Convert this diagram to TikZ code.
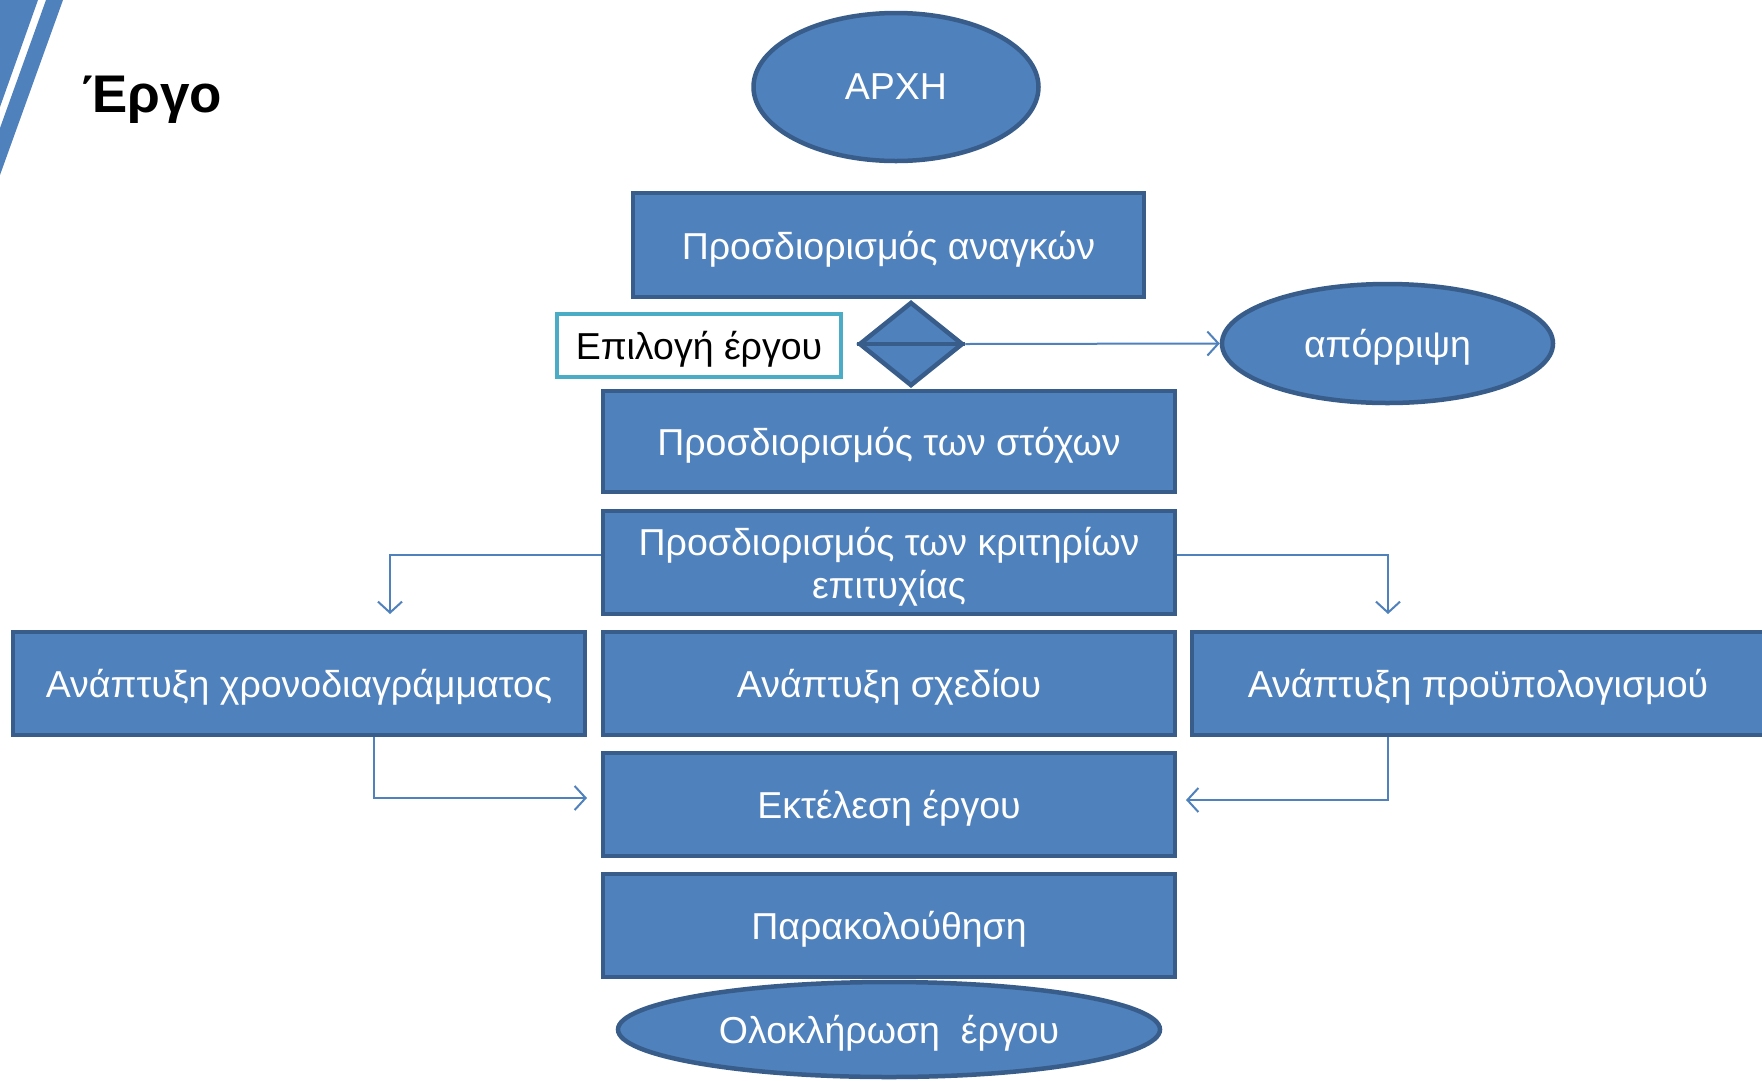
\documentclass[tikz,border=0pt]{standalone}
\usepackage{fontspec}
\setmainfont{Liberation Sans}
\usetikzlibrary{shapes.geometric,arrows.meta}
\definecolor{bfill}{HTML}{4F81BD}
\definecolor{bdraw}{HTML}{385D8A}
\definecolor{cyanb}{HTML}{4BACC6}
\begin{document}
\begin{tikzpicture}[x=1pt,y=-1pt,
  box/.style={rectangle, fill=bfill, draw=bdraw, line width=4.5pt, text=white,
    font=\fontsize{37.5}{43}\selectfont, inner sep=0pt, align=center, text depth=0pt,
    minimum width=572pt, minimum height=103pt},
  oval/.style={ellipse, fill=bfill, draw=bdraw, line width=4.5pt, text=white,
    font=\fontsize{37.5}{43}\selectfont, inner sep=0pt, text depth=0pt},
  conn/.style={draw=bfill, line width=2pt, -{Straight Barb[length=11pt,width=24pt]}},
  title/.style={font=\fontsize{53}{60}\selectfont\bfseries, text=black, inner sep=0pt, anchor=base west}]
\useasboundingbox (0,0) rectangle (1762,1080);
\clip (0,0) rectangle (1762,1080);
\fill[white] (0,0) rectangle (1762,1080);
% decorative stripes
\fill[bfill] (-10,0) -- (38,0) -- (0,107) -- (-10,107) -- cycle;
\fill[bfill] (46,0) -- (63,0) -- (0,175) -- (0,128) -- cycle;
\node[title] (ttl) at (82,112) {Έργο};

\node[oval, minimum width=285pt, minimum height=148pt] (arxi) at (896,87) {ΑΡΧΗ};
\node[box, minimum width=511pt, minimum height=104pt] (anagkon) at (888.5,245) {Προσδιορισμός αναγκών};
\node[diamond, fill=bfill, draw=bdraw, line width=4.5pt, inner sep=0pt,
      minimum width=104pt, minimum height=84pt] (dec) at (911,344) {};
\draw[bdraw, line width=4.5pt] (dec.west) -- (dec.east);
\node[rectangle, draw=cyanb, fill=white, line width=4.5pt, inner sep=0pt, text depth=0pt,
      minimum width=284pt, minimum height=63pt, font=\fontsize{37.5}{43}\selectfont] (epilogi) at (699,345.5) {Επιλογή έργου};
\node[oval, minimum width=331pt, minimum height=119pt] (aporr) at (1387.5,343.5) {απόρριψη};
\node[box, minimum height=101pt] (stoxoi) at (889,441.5) {Προσδιορισμός των στόχων};
\node[box] (kritiria) at (889,562.5) {Προσδιορισμός των κριτηρίων\\επιτυχίας};
\node[box] (xrono) at (299,683.5) {Ανάπτυξη χρονοδιαγράμματος};
\node[box] (sxedio) at (889,683.5) {Ανάπτυξη σχεδίου};
\node[box] (proyp) at (1478,683.5) {Ανάπτυξη προϋπολογισμού};
\node[box] (ektel) at (889,804.5) {Εκτέλεση έργου};
\node[box] (parak) at (889,925.5) {Παρακολούθηση};
\node[oval, minimum width=542pt, minimum height=95pt] (olokl) at (889,1029.5) {Ολοκλήρωση\ \ έργου};

\coordinate (tl) at (390,614);
\coordinate (tr) at (1388,614);
\coordinate (bl) at (587,798);
\coordinate (br) at (1186,800);

\draw[conn] (dec.east) -- (aporr.west);
\draw[conn] ([yshift=7.5pt]kritiria.west) -| (tl);
\draw[conn] ([yshift=7.5pt]kritiria.east) -| (tr);
\draw[conn] ([xshift=75pt]xrono.south) |- (bl);
\draw[conn] ([xshift=-90pt]proyp.south) |- (br);
\end{tikzpicture}
\end{document}
